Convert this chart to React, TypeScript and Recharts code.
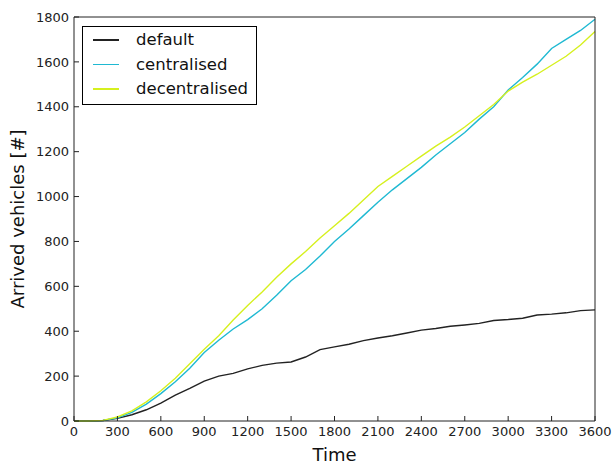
import { LineChart, Line, XAxis, YAxis, Legend } from "recharts";

const times = [
  0, 100, 200, 300, 400, 500, 600, 700, 800, 900, 1000, 1100, 1200, 1300, 1400, 1500, 1600,
  1700, 1800, 1900, 2000, 2100, 2200, 2300, 2400, 2500, 2600, 2700, 2800, 2900, 3000, 3100,
  3200, 3300, 3400, 3500, 3600,
];

const defaultArrived = [
  0, 0, 2, 12, 28, 50, 80, 115, 145, 178, 200, 212, 232, 248, 258, 263, 285, 318, 330, 342,
  358, 370, 380, 392, 405, 412, 422, 428, 435, 448, 452, 458, 472, 476, 482, 492, 495,
];

const centralised = [
  0, 0, 2, 14, 38, 75, 122, 175, 235, 305, 360, 410, 452, 500, 560, 625, 675, 735, 800, 855,
  915, 975, 1030, 1080, 1130, 1185, 1235, 1285, 1345, 1400, 1475, 1530, 1590, 1660, 1700,
  1740, 1790,
];

const decentralised = [
  0, 0, 3, 18, 45, 85, 135, 190, 255, 320, 380, 450, 515, 575, 640, 700, 755, 815, 870, 925,
  985, 1045, 1090, 1135, 1180, 1225, 1265, 1310, 1360, 1410, 1470, 1510, 1545, 1585, 1625,
  1675, 1735,
];

const xTicks = [0, 300, 600, 900, 1200, 1500, 1800, 2100, 2400, 2700, 3000, 3300, 3600];
const yTicks = [0, 200, 400, 600, 800, 1000, 1200, 1400, 1600, 1800];

const seriesNames = ["default", "centralised", "decentralised"];
const seriesColors = ["#222222", "#1fb9d2", "#d6f01e"];

const rows = times.map((t, i) => ({
  time: t,
  default: defaultArrived[i],
  centralised: centralised[i],
  decentralised: decentralised[i],
}));

const font = "'DejaVu Sans', sans-serif";
const tickStyle = { fontSize: 13, fill: "#222", fontFamily: font };

function LegendBox() {
  return (
    <div
      style={{
        width: 173,
        height: 77,
        border: "1px solid #000",
        background: "#fff",
        fontFamily: font,
        fontSize: 16.5,
        color: "#111",
        position: "relative",
      }}
    >
      {seriesNames.map((name, i) => (
        <div
          key={name}
          style={{ position: "absolute", left: 10, top: 1 + i * 24.5, height: 24, display: "flex", alignItems: "center" }}
        >
          <span style={{ display: "inline-block", width: 26, height: 1.5, background: seriesColors[i] }} />
          <span style={{ marginLeft: 17, lineHeight: "24px" }}>{name}</span>
        </div>
      ))}
    </div>
  );
}

export default function App() {
  return (
    <div style={{ position: "absolute", left: 0, top: 0, width: 613, height: 464, background: "#fff" }}>
      <LineChart width={613} height={464} data={rows} margin={{ top: 17, right: 18, bottom: 0, left: 0 }}>
        <XAxis
          dataKey="time"
          type="number"
          domain={[0, 3600]}
          ticks={xTicks}
          height={43}
          tickSize={-5}
          tickMargin={11}
          stroke="#222"
          tick={tickStyle}
          label={{ value: "Time", position: "insideBottom", offset: 3, style: { fontSize: 18, fill: "#111", fontFamily: font } }}
        />
        <XAxis xAxisId="top" dataKey="time" type="number" orientation="top" mirror domain={[0, 3600]} ticks={xTicks} tickSize={5} tick={false} stroke="#222" height={20} />
        <YAxis
          type="number"
          domain={[0, 1800]}
          ticks={yTicks}
          width={74}
          tickSize={-5}
          tickMargin={10}
          stroke="#222"
          tick={tickStyle}
          label={{
            value: "Arrived vehicles [#]",
            angle: -90,
            position: "insideLeft",
            offset: 18,
            style: { fontSize: 18, fill: "#111", fontFamily: font, textAnchor: "middle" },
          }}
        />
        <YAxis yAxisId="right" type="number" orientation="right" mirror domain={[0, 1800]} ticks={yTicks} tickSize={5} tick={false} stroke="#222" width={20} />
        <Legend
          layout="vertical"
          align="center"
          verticalAlign="middle"
          content={() => <LegendBox />}
          wrapperStyle={{ position: "absolute", left: 82, top: 26, width: "auto", height: "auto" }}
        />
        {seriesNames.map((name, i) => (
          <Line
            key={name}
            type="linear"
            dataKey={name}
            stroke={seriesColors[i]}
            strokeWidth={1.4}
            dot={false}
            isAnimationActive={false}
          />
        ))}
      </LineChart>
    </div>
  );
}
